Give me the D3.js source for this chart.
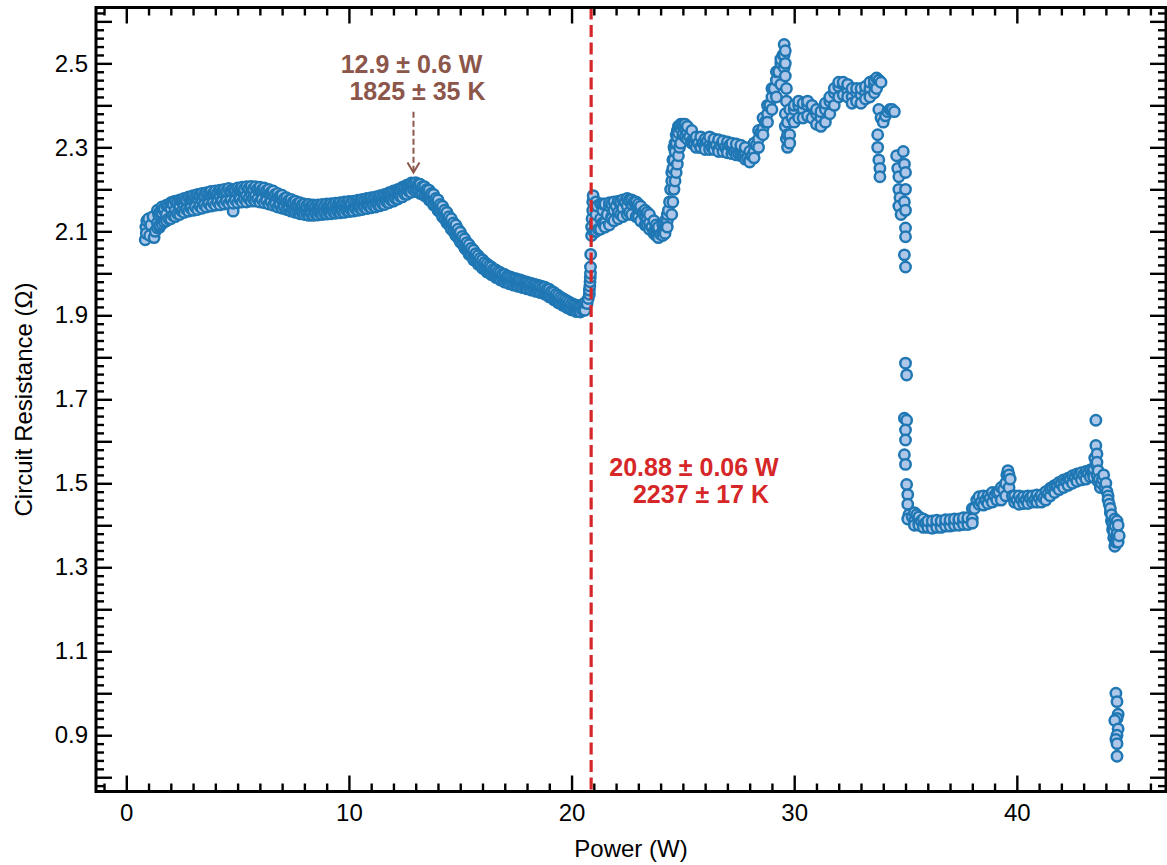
<!DOCTYPE html>
<html>
<head>
<meta charset="utf-8">
<script src="https://cdn.jsdelivr.net/npm/d3@7"></script>
<style>
  html, body { margin: 0; padding: 0; background: #fff; }
  svg { display: block; }
  text { font-family: Arial, "Liberation Sans", Helvetica, sans-serif; }
</style>
</head>
<body>
<svg id="chart" width="1167" height="865"></svg>
<script>
// Measured circuit resistance (Ω) versus input power (W), in acquisition order.
const rampLow = [
  [0.85,2.08],[0.9,2.095],[0.88,2.11],[0.92,2.125],[1.0,2.13],[1.05,2.09],[1.1,2.115],[1.2,2.135],[1.25,2.085],
  [1.3,2.1],[1.4,2.12],[1.45,2.14],[1.5,2.11],[1.6,2.145],[1.7,2.15],[1.8,2.14],[1.9,2.16],[2.0,2.155],[2.1,2.17],
  [2.2,2.15],[2.3,2.165],[2.4,2.16],[2.5,2.175],[2.6,2.165],[2.7,2.17],[2.8,2.18],[2.9,2.17],[3.0,2.175],[3.1,2.165],
  [3.2,2.18],[3.3,2.185],[3.4,2.175],[3.5,2.18],[3.6,2.19],[3.7,2.17],[3.8,2.185],[3.9,2.175],[4.0,2.19],[4.1,2.18],
  [4.2,2.185],[4.3,2.175],[4.4,2.19],[4.5,2.18],[4.6,2.2],[4.7,2.185],[4.8,2.148],[4.9,2.18],[5.0,2.19],[5.1,2.185],
  [5.2,2.195],[5.3,2.19],[5.4,2.185],[5.5,2.2],[5.6,2.19],[5.7,2.195],[5.8,2.185],[5.9,2.2],[6.0,2.195],[6.1,2.19],
  [6.2,2.2],[6.3,2.185],[6.4,2.19],[6.5,2.18],[6.6,2.185],[6.7,2.175],[6.8,2.18],[6.9,2.17],[7.0,2.175],[7.1,2.165],
  [7.2,2.17],[7.3,2.16],[7.4,2.165],[7.5,2.16],[7.6,2.155],[7.7,2.16],[7.8,2.15],[7.9,2.155],[8.0,2.15],[8.1,2.155],
  [8.2,2.145],[8.3,2.15],[8.4,2.155],[8.5,2.145],[8.6,2.15],[8.7,2.155],[8.8,2.15],[8.9,2.145],[9.0,2.155],[9.1,2.15],
  [9.2,2.155],[9.3,2.16],[9.4,2.15],[9.5,2.155],[9.6,2.16],[9.7,2.155],[9.8,2.16],[9.9,2.155],[10.0,2.16],[10.1,2.165],
  [10.2,2.155],[10.3,2.16],[10.4,2.165],[10.5,2.16],[10.6,2.165],[10.7,2.16],[10.8,2.17],[10.9,2.165],[11.0,2.17],
  [11.1,2.165],[11.2,2.175],[11.3,2.17],[11.4,2.175],[11.5,2.17],[11.6,2.18],[11.7,2.175],[11.8,2.185],[11.9,2.18],
  [12.0,2.19],[12.1,2.185],[12.2,2.195],[12.3,2.19],[12.4,2.2],[12.5,2.195],[12.6,2.205],[12.7,2.2],[12.8,2.21],
  [12.9,2.212],[13.0,2.205],[13.1,2.2],[13.2,2.205],[13.3,2.195],[13.4,2.2],[13.5,2.19],[13.6,2.185],[13.7,2.18],
  [13.8,2.175],[13.9,2.17],[14.0,2.16],[14.1,2.155],[14.2,2.145],[14.3,2.14],[14.4,2.13],[14.5,2.125],[14.6,2.115],
  [14.7,2.11],[14.8,2.1],[14.9,2.09],[15.0,2.085],[15.1,2.075],[15.2,2.07],[15.3,2.06],[15.4,2.055],[15.5,2.045],
  [15.6,2.04],[15.7,2.035],[15.8,2.03],[15.9,2.025],[16.0,2.02],[16.1,2.015],[16.2,2.01],[16.3,2.008],[16.4,2.005],
  [16.5,2.0],[16.6,1.998],[16.7,1.995],[16.8,1.99],[16.9,1.992],[17.0,1.985],[17.1,1.988],[17.2,1.982],[17.3,1.98],
  [17.4,1.983],[17.5,1.978],[17.6,1.975],[17.7,1.978],[17.8,1.972],[17.9,1.975],[18.0,1.97],[18.1,1.972],[18.2,1.968],
  [18.3,1.965],[18.4,1.968],[18.5,1.962],[18.6,1.965],[18.7,1.96],[18.8,1.958],[18.9,1.955],[19.0,1.95],[19.1,1.945],
  [19.2,1.94],[19.3,1.935],[19.4,1.938],[19.5,1.932],[19.6,1.928],[19.7,1.93],[19.8,1.925],[19.9,1.922],[20.0,1.92],
  [20.1,1.918],[20.2,1.915],[20.3,1.913],[20.4,1.915],[20.5,1.918],[20.6,1.922],[20.7,1.928],[20.75,1.94],[20.8,1.95],
  [20.8,1.96],[20.82,1.97],[20.83,1.98],[20.84,1.99],[20.85,2.0],[20.85,2.015],[20.86,2.045]
];
// Spread of repeated readings at each power step: [power, lowest, highest]
const rampLowSpread = [
  [1.4,2.108,2.15],[1.6,2.118,2.158],[1.8,2.125,2.162],[2.0,2.13,2.168],[2.2,2.135,2.172],[2.4,2.14,2.175],
  [2.6,2.145,2.178],[2.8,2.148,2.182],[3.0,2.15,2.185],[3.2,2.152,2.188],[3.4,2.155,2.19],[3.6,2.158,2.192],
  [3.8,2.16,2.195],[4.0,2.162,2.196],[4.2,2.163,2.198],[4.4,2.165,2.2],[4.6,2.166,2.202],[4.8,2.167,2.2],
  [5.0,2.168,2.203],[5.2,2.17,2.205],[5.4,2.17,2.206],[5.6,2.172,2.207],[5.8,2.172,2.206],[6.0,2.17,2.205],
  [6.2,2.168,2.203],[6.4,2.165,2.2],[6.6,2.162,2.196],[6.8,2.158,2.19],[7.0,2.155,2.186],[7.2,2.152,2.18],
  [7.4,2.148,2.176],[7.6,2.145,2.172],[7.8,2.142,2.168],[8.0,2.14,2.165],[8.2,2.138,2.164],[8.4,2.138,2.163],
  [8.6,2.139,2.163],[8.8,2.14,2.164],[9.0,2.141,2.165],[9.2,2.142,2.166],[9.4,2.143,2.167],[9.6,2.144,2.168],
  [9.8,2.145,2.17],[10.0,2.147,2.171],[10.2,2.148,2.172],[10.4,2.15,2.174],[10.6,2.152,2.176],[10.8,2.154,2.178],
  [11.0,2.156,2.18],[11.2,2.158,2.182],[11.4,2.161,2.185],[11.6,2.164,2.188],[11.8,2.168,2.192],[12.0,2.172,2.196],
  [12.2,2.177,2.2],[12.4,2.182,2.205],[12.6,2.188,2.21],[12.8,2.193,2.215],[13.0,2.195,2.216],[13.2,2.19,2.212],
  [13.4,2.185,2.206],[13.6,2.175,2.198],[13.8,2.163,2.188],[14.0,2.15,2.175],[14.2,2.135,2.16],[14.4,2.12,2.145],
  [14.6,2.105,2.13],[14.8,2.09,2.115],[15.0,2.075,2.098],[15.2,2.06,2.082],[15.4,2.045,2.068],[15.6,2.032,2.055],
  [15.8,2.022,2.042],[16.0,2.012,2.032],[16.2,2.003,2.022],[16.4,1.997,2.015],[16.6,1.99,2.008],[16.8,1.984,2.002],
  [17.0,1.979,1.997],[17.2,1.975,1.992],[17.4,1.972,1.988],[17.6,1.969,1.985],[17.8,1.966,1.982],[18.0,1.963,1.979],
  [18.2,1.96,1.976],[18.4,1.957,1.973],[18.6,1.954,1.97],[18.8,1.95,1.967],[19.0,1.944,1.962],[19.2,1.937,1.955],
  [19.4,1.93,1.947],[19.6,1.924,1.94],[19.8,1.918,1.934],[20.0,1.913,1.928],[20.2,1.909,1.924],[20.4,1.908,1.922],
  [20.6,1.912,1.93]
];
const rampLowSpreadB = [
  [1.5,2.115,2.145],[1.7,2.122,2.155],[1.9,2.13,2.16],[2.1,2.138,2.165],[2.3,2.142,2.17],[2.5,2.148,2.172],
  [2.7,2.152,2.176],[2.9,2.155,2.18],[3.1,2.158,2.182],[3.3,2.16,2.185],[3.5,2.163,2.187],[3.7,2.166,2.19],
  [3.9,2.168,2.19],[4.1,2.17,2.192],[4.3,2.171,2.195],[4.5,2.172,2.196],[4.7,2.174,2.197],[4.9,2.175,2.198],
  [5.1,2.176,2.2],[5.3,2.177,2.201],[5.5,2.178,2.202],[5.7,2.178,2.201],[5.9,2.177,2.2],[6.1,2.176,2.199],
  [6.3,2.173,2.197],[6.5,2.17,2.193],[6.7,2.166,2.188],[6.9,2.162,2.184],[7.1,2.158,2.178],[7.3,2.154,2.174],
  [7.5,2.15,2.17],[7.7,2.147,2.166],[7.9,2.145,2.163],[8.1,2.143,2.161],[8.3,2.142,2.16],[8.5,2.142,2.16],
  [8.7,2.143,2.16],[8.9,2.144,2.161],[9.1,2.145,2.162],[9.3,2.146,2.163],[9.5,2.147,2.164],[9.7,2.148,2.165],
  [9.9,2.15,2.167],[10.1,2.151,2.168],[10.3,2.153,2.17],[10.5,2.155,2.172],[10.7,2.157,2.174],[10.9,2.159,2.176],
  [11.1,2.161,2.178],[11.3,2.163,2.18],[11.5,2.166,2.183],[11.7,2.17,2.187],[11.9,2.174,2.191],[12.1,2.178,2.195],
  [12.3,2.183,2.2],[12.5,2.189,2.205],[12.7,2.195,2.21],[12.9,2.2,2.214],[13.1,2.197,2.212],[13.3,2.19,2.206],
  [13.5,2.183,2.2],[13.7,2.172,2.19],[13.9,2.16,2.178],[14.1,2.146,2.164],[14.3,2.13,2.15],[14.5,2.115,2.135],
  [14.7,2.1,2.12],[14.9,2.085,2.105],[15.1,2.07,2.088],[15.3,2.055,2.073],[15.5,2.042,2.06],[15.7,2.03,2.047],
  [15.9,2.02,2.036],[16.1,2.01,2.026],[16.3,2.002,2.018],[16.5,1.996,2.01],[16.7,1.99,2.004],[16.9,1.985,1.998],
  [17.1,1.98,1.993],[17.3,1.977,1.99],[17.5,1.974,1.987],[17.7,1.971,1.984],[17.9,1.968,1.98],[18.1,1.965,1.977],
  [18.3,1.962,1.974],[18.5,1.959,1.971],[18.7,1.955,1.968],[18.9,1.95,1.963],[19.1,1.943,1.957],[19.3,1.936,1.95],
  [19.5,1.929,1.943],[19.7,1.923,1.937],[19.9,1.917,1.931],[20.1,1.913,1.926],[20.3,1.91,1.922],[20.5,1.912,1.925]
];

const rampMid = [
  [20.9,2.09],[20.9,2.11],[20.92,2.13],[20.95,2.15],[20.95,2.17],[20.97,2.185],[21.0,2.1],[21.05,2.12],[21.1,2.14],
  [21.15,2.16],[21.2,2.105],[21.3,2.13],[21.4,2.15],[21.5,2.12],[21.6,2.14],[21.7,2.16],[21.8,2.135],[21.9,2.15],
  [22.0,2.16],[22.1,2.145],[22.2,2.165],[22.3,2.155],[22.4,2.17],[22.5,2.16],[22.6,2.175],[22.7,2.165],[22.8,2.17],
  [22.9,2.16],[23.0,2.155],[23.1,2.15],[23.2,2.145],[23.3,2.135],[23.4,2.13],[23.5,2.12],[23.6,2.11],[23.7,2.1],
  [23.8,2.095],[23.9,2.09],[24.0,2.093],[24.1,2.1],[24.2,2.11],[24.3,2.125],[24.35,2.15],[24.4,2.17],[24.45,2.2],
  [24.5,2.22],[24.55,2.25],[24.6,2.27],[24.65,2.29],[24.7,2.31],[24.75,2.325],[24.8,2.335],[24.9,2.345],[25.0,2.35],
  [25.1,2.345],[25.2,2.335],[25.3,2.325],[25.4,2.315],[25.5,2.31],[25.6,2.315],[25.7,2.31],[25.8,2.3],[25.9,2.31],
  [26.0,2.305],[26.1,2.315],[26.2,2.305],[26.3,2.3],[26.4,2.31],[26.5,2.305],[26.6,2.295],[26.7,2.305],[26.8,2.31],
  [26.9,2.3],[27.0,2.295],[27.1,2.305],[27.2,2.3],[27.3,2.29],[27.4,2.295],[27.5,2.285],[27.6,2.29],[27.7,2.28],
  [27.8,2.285],[27.9,2.275],[28.0,2.27],[28.1,2.28],[28.2,2.29],[28.3,2.305],[28.4,2.32],[28.5,2.335],[28.6,2.345],
  [28.7,2.36],[28.8,2.38],[28.9,2.4],[29.0,2.42],[29.1,2.44],[29.2,2.46],[29.3,2.48],[29.4,2.5],[29.5,2.52],
  [29.55,2.545],[29.6,2.53],[29.6,2.5],[29.6,2.47],[29.65,2.44],[29.65,2.41],[29.6,2.38],[29.6,2.35],[29.65,2.32],
  [29.7,2.3],[29.8,2.33],[29.9,2.37],[30.0,2.39],[30.2,2.4],[30.4,2.39],[30.6,2.4],[30.8,2.395],[31.0,2.38],
  [31.2,2.37],[31.4,2.39],[31.6,2.41],[31.8,2.43],[32.0,2.445],[32.2,2.45],[32.4,2.435],[32.6,2.42],[32.8,2.43],
  [33.0,2.425],[33.2,2.43],[33.4,2.44],[33.6,2.45],[33.8,2.46],[33.9,2.455]
];
const rampMidSpread = [
  [21.4,2.12,2.165],[21.8,2.13,2.165],[22.2,2.14,2.17],[22.6,2.145,2.172],[23.0,2.135,2.165],[23.4,2.115,2.145],
  [23.8,2.09,2.115],[24.2,2.095,2.125],[24.5,2.14,2.24],[24.6,2.2,2.3],[24.7,2.24,2.33],[24.8,2.28,2.35],
  [24.9,2.31,2.355],[25.2,2.32,2.35],[25.6,2.3,2.325],[26.0,2.295,2.32],[26.4,2.295,2.32],[26.8,2.29,2.315],
  [27.2,2.285,2.31],[27.6,2.28,2.305],[28.0,2.265,2.29],[28.4,2.3,2.34],[28.8,2.36,2.4],[29.2,2.42,2.48],
  [29.55,2.49,2.52],[29.7,2.33,2.36],[30.0,2.36,2.4],[30.4,2.37,2.405],[30.8,2.37,2.4],[31.2,2.35,2.385],
  [31.6,2.38,2.42],[32.0,2.42,2.455],[32.4,2.42,2.45],[32.8,2.41,2.44],[33.2,2.415,2.445],[33.6,2.43,2.46]
];
const rampMidSpreadB = [
  [21.1,2.1,2.17],[21.3,2.105,2.165],[21.5,2.11,2.165],[21.7,2.115,2.168],[21.9,2.125,2.17],[22.1,2.13,2.172],
  [22.3,2.135,2.175],[22.5,2.14,2.178],[22.7,2.14,2.175],[22.9,2.135,2.17],[23.1,2.125,2.16],[23.3,2.115,2.15],
  [23.5,2.105,2.14],[23.7,2.095,2.125],[23.9,2.085,2.11],[24.1,2.09,2.115],[24.3,2.11,2.14],[24.55,2.17,2.27],
  [24.65,2.22,2.31],[24.75,2.26,2.34],[24.85,2.3,2.35],[25.0,2.33,2.355],[25.1,2.325,2.355],[25.4,2.31,2.34],
  [25.8,2.3,2.325],[26.2,2.295,2.325],[26.6,2.29,2.318],[27.0,2.287,2.313],[27.4,2.282,2.308],[27.8,2.272,2.3],
  [28.2,2.275,2.31],[28.6,2.33,2.37],[29.0,2.39,2.44],[29.4,2.45,2.51],[29.8,2.31,2.39],[30.2,2.37,2.41],
  [30.6,2.375,2.41],[31.0,2.355,2.39],[31.4,2.36,2.405],[31.8,2.4,2.44],[32.2,2.425,2.455],[32.6,2.405,2.44],
  [33.0,2.405,2.44],[33.4,2.42,2.455],[33.7,2.44,2.465]
];

const breakdown = [
  [33.8,2.39],[33.9,2.37],[34.0,2.36],[34.1,2.375],[34.2,2.385],[34.3,2.39],[34.4,2.39],[34.5,2.385],[33.75,2.33],
  [33.75,2.3],[33.8,2.27],[33.85,2.25],[33.85,2.23],[34.6,2.28],[34.65,2.25],[34.7,2.23],[34.7,2.2],[34.75,2.18],
  [34.7,2.16],[34.8,2.14],[34.9,2.29],[34.95,2.26],[35.0,2.24],[35.0,2.2],[34.95,2.17],[35.0,2.15],[35.0,2.108],
  [35.0,2.087],[34.95,2.044],[35.0,2.015],[35.0,1.786],[35.05,1.758],[34.95,1.655],[35.05,1.65],[35.0,1.627],
  [35.0,1.603],[34.95,1.568],[35.0,1.545],[35.05,1.497],[35.1,1.473],[35.1,1.45],[35.15,1.425],[35.1,1.415]
];

const rampHigh = [
  [35.3,1.42],[35.4,1.41],[35.5,1.425],[35.6,1.405],[35.7,1.41],[35.8,1.4],[35.9,1.405],[36.0,1.4],[36.2,1.398],
  [36.4,1.402],[36.6,1.4],[36.8,1.405],[37.0,1.405],[37.2,1.408],[37.4,1.41],[37.6,1.41],[37.8,1.412],[38.0,1.415],
  [38.1,1.44],[38.2,1.46],[38.4,1.455],[38.6,1.46],[38.8,1.465],[39.0,1.47],[39.2,1.48],[39.4,1.485],[39.5,1.5],
  [39.55,1.52],[39.6,1.53],[39.7,1.51],[39.8,1.47],[40.0,1.46],[40.2,1.462],[40.4,1.46],[40.6,1.465],[40.8,1.46],
  [41.0,1.465],[41.2,1.465],[41.4,1.475],[41.6,1.49],[41.8,1.495],[42.0,1.5],[42.2,1.505],[42.4,1.51],[42.6,1.515],
  [42.8,1.52],[43.0,1.52],[43.2,1.525],[43.4,1.53],[43.5,1.56],[43.55,1.65],[43.55,1.59],[43.55,1.545],[43.6,1.57],
  [43.6,1.55],[43.6,1.52],[43.65,1.53],[43.65,1.505],[43.7,1.51],[43.75,1.49],[43.8,1.5],[43.85,1.51],[43.9,1.52],
  [43.95,1.49],[44.0,1.5],[44.05,1.48],[44.1,1.47],[44.1,1.46],[44.15,1.45],[44.2,1.43],[44.2,1.44],[44.25,1.41],
  [44.25,1.425],[44.3,1.39],[44.3,1.405],[44.35,1.37],[44.35,1.385],[44.4,1.35],[44.4,1.4],[44.4,1.415],
  [44.45,1.37],[44.45,1.36],[44.5,1.41],[44.5,1.38],[44.55,1.36],[44.55,1.4],[44.6,1.375]
];
const rampHighSpread = [
  [35.4,1.4,1.43],[35.8,1.395,1.415],[36.2,1.393,1.41],[36.6,1.395,1.41],[37.0,1.398,1.413],[37.4,1.4,1.415],
  [37.8,1.402,1.418],[38.3,1.45,1.468],[38.7,1.452,1.47],[39.1,1.46,1.478],[39.5,1.47,1.5],[39.9,1.455,1.47],
  [40.3,1.452,1.468],[40.7,1.455,1.47],[41.1,1.455,1.472],[41.5,1.47,1.488],[41.9,1.485,1.502],[42.3,1.495,1.512],
  [42.7,1.505,1.522],[43.1,1.51,1.528],[43.45,1.515,1.535]
];
const rampHighSpreadB = [
  [35.6,1.4,1.42],[36.0,1.395,1.41],[36.4,1.395,1.412],[36.8,1.398,1.413],[37.2,1.4,1.415],[37.6,1.402,1.418],
  [38.0,1.405,1.44],[38.5,1.448,1.47],[38.9,1.455,1.478],[39.3,1.46,1.49],[39.65,1.49,1.52],[40.1,1.45,1.47],
  [40.5,1.452,1.47],[40.9,1.455,1.472],[41.3,1.46,1.48],[41.7,1.478,1.495],[42.1,1.49,1.508],[42.5,1.5,1.518],
  [42.9,1.508,1.525],[43.3,1.515,1.532]
];

const collapse = [
  [44.45,1.0],[44.5,0.98],[44.55,0.95],[44.5,0.94],[44.4,0.935],[44.55,0.915],[44.5,0.9],[44.45,0.89],[44.5,0.88],
  [44.5,0.85]
];

// Axis ticks
const xTickLabels = [0, 10, 20, 30, 40];
const yTickLabels = [0.9, 1.1, 1.3, 1.5, 1.7, 1.9, 2.1, 2.3, 2.5];

// Annotations
const peakPower = 12.9;
const peakArrowFrom = 2.385;
const peakArrowTo = 2.24;
const peakLabel = ["12.9 ± 0.6 W", "1825 ± 35 K"];
const transitionPower = 20.88;
const transitionLabel = ["20.88 ± 0.06 W", "2237 ± 17 K"];

const plot = { left: 96, right: 1166, top: 7.5, bottom: 791.5 };
const svg = d3.select("#chart");

const x = d3.scaleLinear().domain([-1.36, 46.7]).range([plot.left, plot.right]);
const y = d3.scaleLinear().domain([0.766, 2.633]).range([plot.bottom, plot.top]);

svg.append("defs").append("clipPath").attr("id", "plotClip")
  .append("rect")
  .attr("x", plot.left).attr("y", plot.top)
  .attr("width", plot.right - plot.left).attr("height", plot.bottom - plot.top);

// Expand spread rows into individual readings and merge with the trace
function readings(trace, ...spreads) {
  const rows = trace.slice();
  spreads.forEach(spread => spread.forEach(([p, lo, hi]) => { rows.push([p, lo]); rows.push([p, hi]); }));
  return rows.sort((a, b) => a[0] - b[0]);
}
const points = [].concat(
  readings(rampLow, rampLowSpread, rampLowSpreadB),
  readings(rampMid, rampMidSpread, rampMidSpreadB),
  breakdown,
  readings(rampHigh, rampHighSpread, rampHighSpreadB),
  collapse
);

svg.append("g").attr("clip-path", "url(#plotClip)")
  .selectAll("circle").data(points).join("circle")
  .attr("cx", d => x(d[0]))
  .attr("cy", d => y(d[1]))
  .attr("r", 5.2)
  .attr("fill", "#aec7e8")
  .attr("stroke", "#1f77b4")
  .attr("stroke-width", 2.5);

// Transition marker
svg.append("line")
  .attr("x1", x(transitionPower)).attr("x2", x(transitionPower))
  .attr("y1", plot.top).attr("y2", plot.bottom)
  .attr("stroke", "#d62728").attr("stroke-width", 3.2)
  .attr("stroke-dasharray", "12,5.5");

// Axes with inward ticks on all four sides
const xMinor = d3.range(-1, 47, 1).filter(v => v % 10 !== 0);
const xMajor = d3.range(0, 50, 10);
const yMinor = d3.range(78, 264, 2).map(v => v / 100).filter(v => Math.round(v * 100) % 10 !== 0);
const yMajor = d3.range(8, 27, 1).map(v => v / 10);

function styleAxis(g) {
  g.select(".domain").remove();
  g.selectAll(".tick line").attr("stroke", "#000").attr("stroke-width", 2.4);
  g.selectAll(".tick text").attr("fill", "#000").style("font-size", "24px")
    .style("font-family", "Arial, 'Liberation Sans', sans-serif");
}

const fmtY = d3.format(".1f");

svg.append("g").attr("transform", `translate(0,${plot.bottom})`)
  .call(d3.axisBottom(x).tickValues(xMinor).tickSize(-8).tickFormat(""))
  .call(styleAxis);
svg.append("g").attr("transform", `translate(0,${plot.bottom})`)
  .call(d3.axisBottom(x).tickValues(xMajor).tickSize(-16).tickPadding(12)
    .tickFormat(d => xTickLabels.includes(d) ? d : ""))
  .call(styleAxis);
svg.append("g").attr("transform", `translate(0,${plot.top})`)
  .call(d3.axisTop(x).tickValues(xMinor).tickSize(-8).tickFormat(""))
  .call(styleAxis);
svg.append("g").attr("transform", `translate(0,${plot.top})`)
  .call(d3.axisTop(x).tickValues(xMajor).tickSize(-16).tickFormat(""))
  .call(styleAxis);

svg.append("g").attr("transform", `translate(${plot.left},0)`)
  .call(d3.axisLeft(y).tickValues(yMinor).tickSize(-8).tickFormat(""))
  .call(styleAxis);
svg.append("g").attr("transform", `translate(${plot.left},0)`)
  .call(d3.axisLeft(y).tickValues(yMajor).tickSize(-16).tickPadding(8)
    .tickFormat(d => yTickLabels.some(v => Math.abs(v - d) < 1e-6) ? fmtY(d) : ""))
  .call(styleAxis);
svg.append("g").attr("transform", `translate(${plot.right},0)`)
  .call(d3.axisRight(y).tickValues(yMinor).tickSize(-8).tickFormat(""))
  .call(styleAxis);
svg.append("g").attr("transform", `translate(${plot.right},0)`)
  .call(d3.axisRight(y).tickValues(yMajor).tickSize(-16).tickFormat(""))
  .call(styleAxis);

// Frame
svg.append("rect")
  .attr("x", plot.left).attr("y", plot.top)
  .attr("width", plot.right - plot.left).attr("height", plot.bottom - plot.top)
  .attr("fill", "none").attr("stroke", "#000").attr("stroke-width", 3);

// Axis titles
svg.append("text")
  .attr("x", (plot.left + plot.right) / 2).attr("y", 857)
  .attr("text-anchor", "middle").style("font-size", "24px").attr("fill", "#000")
  .text("Power (W)");
svg.append("text")
  .attr("transform", `translate(32,${(plot.top + plot.bottom) / 2}) rotate(-90)`)
  .attr("text-anchor", "middle").style("font-size", "24px").attr("fill", "#000")
  .text("Circuit Resistance (Ω)");

// Peak annotation with dashed arrow
const brown = "#8c564b";
svg.append("line")
  .attr("x1", x(peakPower)).attr("x2", x(peakPower))
  .attr("y1", y(peakArrowFrom)).attr("y2", y(peakArrowTo) - 1)
  .attr("stroke", brown).attr("stroke-width", 2).attr("stroke-dasharray", "6,3");
svg.append("path")
  .attr("d", `M${x(peakPower) - 6},${y(peakArrowTo) - 10} L${x(peakPower)},${y(peakArrowTo)} L${x(peakPower) + 6},${y(peakArrowTo) - 10}`)
  .attr("fill", "none").attr("stroke", brown).attr("stroke-width", 2);

const peakText = svg.append("text").attr("fill", brown)
  .style("font-size", "25px").style("font-weight", "bold");
peakText.append("tspan").attr("x", x(peakPower) - 2).attr("y", 73)
  .attr("text-anchor", "middle").text(peakLabel[0]);
peakText.append("tspan").attr("x", x(peakPower) + 4).attr("y", 100)
  .attr("text-anchor", "middle").text(peakLabel[1]);

// Transition annotation
const redText = svg.append("text").attr("fill", "#d62728")
  .style("font-size", "25px").style("font-weight", "bold");
redText.append("tspan").attr("x", 694).attr("y", 476)
  .attr("text-anchor", "middle").text(transitionLabel[0]);
redText.append("tspan").attr("x", 701).attr("y", 503)
  .attr("text-anchor", "middle").text(transitionLabel[1]);
</script>
</body>
</html>
